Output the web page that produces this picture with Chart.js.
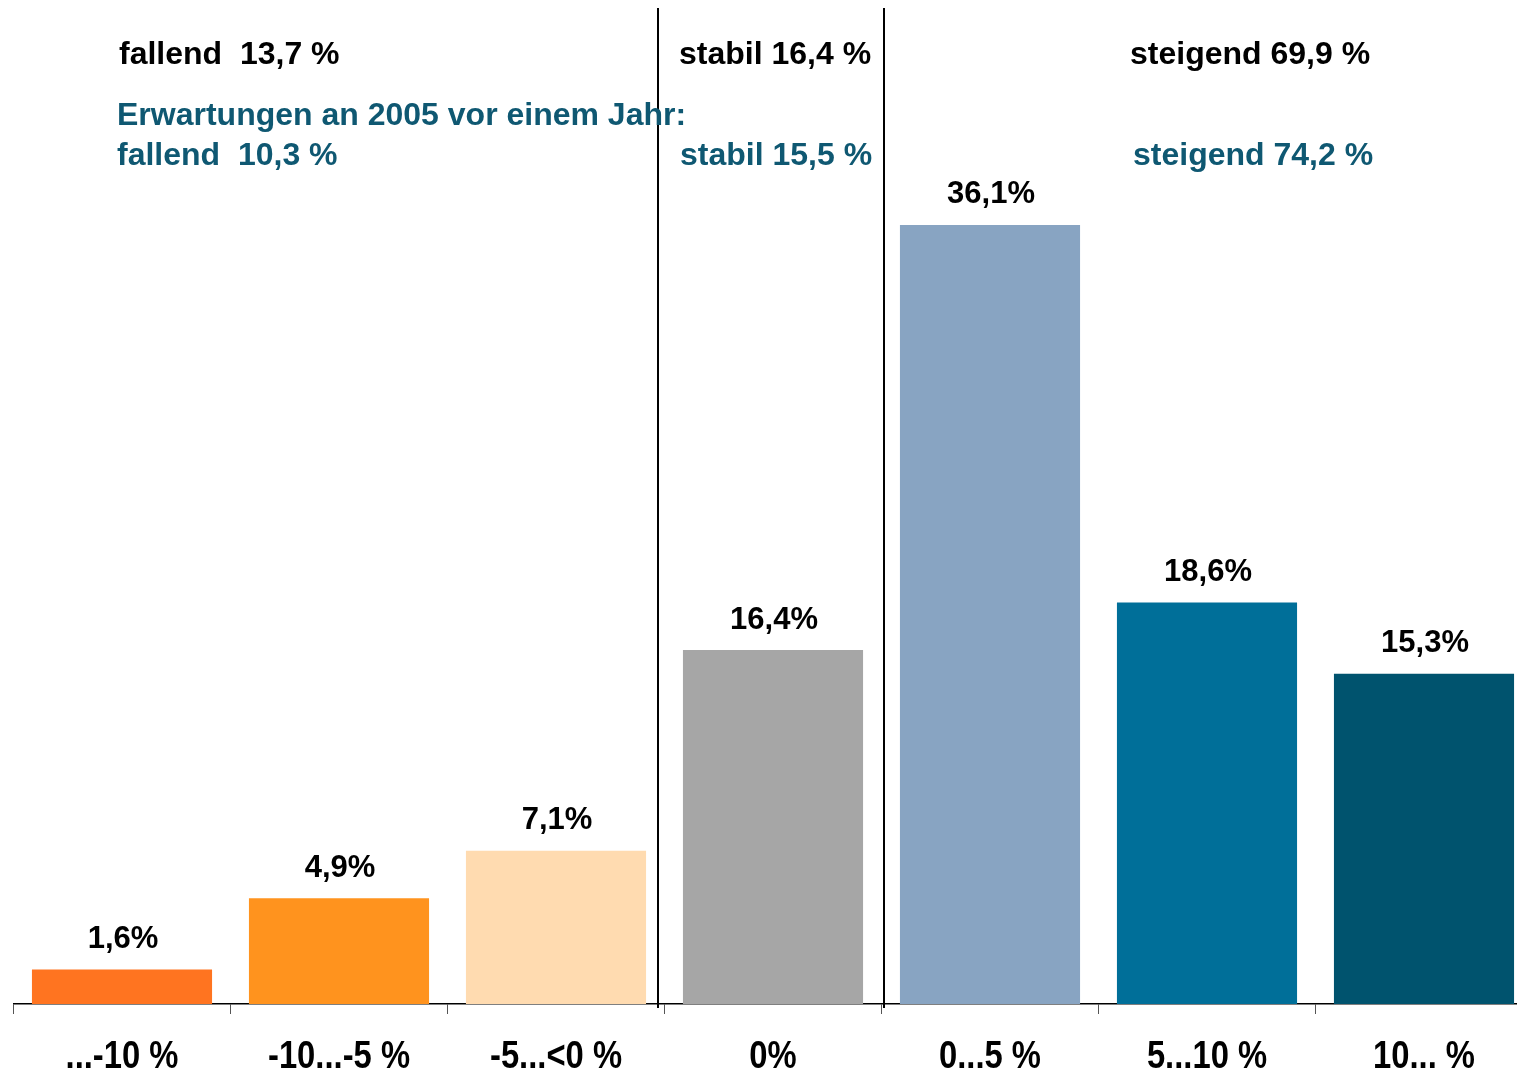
<!DOCTYPE html>
<html>
<head>
<meta charset="utf-8">
<script src="https://cdn.jsdelivr.net/npm/chart.js@4"></script>
<style>
  html, body { margin: 0; padding: 0; background: #fff; overflow: hidden; }
  #wrap { position: relative; width: 1540px; height: 1072px; }
</style>
</head>
<body>
<div id="wrap"><canvas id="chart"></canvas></div>
<script>
// categories and values (percent)
const categories = ["...-10 %", "-10...-5 %", "-5...<0 %", "0%", "0...5 %", "5...10 %", "10... %"];
const shares = [1.6, 4.9, 7.1, 16.4, 36.1, 18.6, 15.3];
const barColors = ["#ff7420", "#ff931e", "#ffdbb0", "#a6a6a6", "#88a4c2", "#006f99", "#00536e"];

// header texts: [text, x, y]
const headerNow = [
  ["fallend  13,7 %", 119, 55],
  ["stabil 16,4 %", 679, 55],
  ["steigend 69,9 %", 1130, 55]
];
const headerPrev = [
  ["Erwartungen an 2005 vor einem Jahr:", 117, 116],
  ["fallend  10,3 %", 117, 156],
  ["stabil 15,5 %", 680, 156],
  ["steigend 74,2 %", 1133, 156]
];

const FONT = "'Liberation Sans', Arial, sans-serif";

const decorations = {
  id: "decorations",
  afterDatasetsDraw(chart) {
    const ctx = chart.ctx;
    const x = chart.scales.x;
    const area = chart.chartArea;
    const meta = chart.getDatasetMeta(0);

    // group separators
    ctx.save();
    ctx.strokeStyle = "#000";
    ctx.lineWidth = 2;
    [[2.5, -7], [3.5, 2]].forEach(([v, d]) => {
      const px = Math.round(x.getPixelForValue(v) + d);
      ctx.beginPath();
      ctx.moveTo(px, area.top);
      ctx.lineTo(px, area.bottom + 4);
      ctx.stroke();
    });
    ctx.restore();

    // value labels
    ctx.save();
    ctx.fillStyle = "#000";
    ctx.font = "bold 31px " + FONT;
    ctx.textAlign = "center";
    ctx.textBaseline = "middle";
    meta.data.forEach((bar, i) => {
      ctx.fillText(shares[i].toFixed(1).replace(".", ",") + "%", bar.x + 1, bar.y - 30);
    });
    ctx.restore();

    // category labels (slightly condensed)
    ctx.save();
    ctx.fillStyle = "#000";
    ctx.font = "bold 39px " + FONT;
    ctx.textAlign = "center";
    ctx.textBaseline = "middle";
    categories.forEach((c, i) => {
      const cx = x.getPixelForValue(i);
      ctx.save();
      ctx.translate(cx, 1057);
      ctx.scale(0.84, 1);
      ctx.fillText(c, 0, 0);
      ctx.restore();
    });
    ctx.restore();

    // header texts
    ctx.save();
    ctx.font = "bold 32px " + FONT;
    ctx.textAlign = "left";
    ctx.textBaseline = "middle";
    ctx.fillStyle = "#000";
    headerNow.forEach(([t, tx, ty]) => ctx.fillText(t, tx, ty));
    ctx.fillStyle = "#0f5872";
    headerPrev.forEach(([t, tx, ty]) => ctx.fillText(t, tx, ty));
    ctx.restore();
  }
};

new Chart(document.getElementById("chart"), {
  type: "bar",
  data: {
    labels: categories,
    datasets: [{
      data: shares,
      backgroundColor: barColors,
      barPercentage: 0.83,
      categoryPercentage: 1
    }]
  },
  options: {
    responsive: true,
    maintainAspectRatio: false,
    animation: false,
    layout: { padding: { left: 13.5, right: 7.5, top: 8, bottom: 0 } },
    plugins: { legend: { display: false }, tooltip: { enabled: false } },
    scales: {
      x: {
        grid: { drawOnChartArea: false, drawTicks: true, tickLength: 10, color: "#555", offset: true },
        border: { display: true, color: "#000", width: 1.5 },
        ticks: { display: false },
        afterFit(scale) { scale.height = 68; }
      },
      y: {
        display: false,
        min: 0,
        max: 46.15
      }
    }
  },
  plugins: [decorations]
});
</script>
</body>
</html>
